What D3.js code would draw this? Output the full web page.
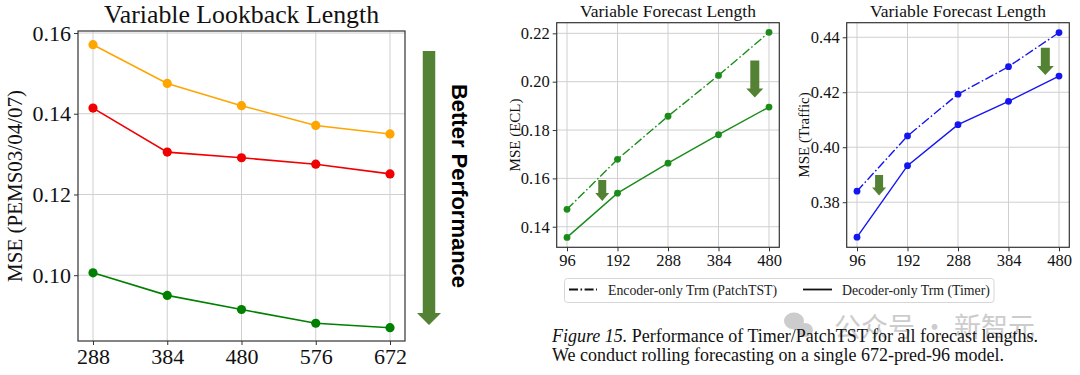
<!DOCTYPE html>
<html>
<head>
<meta charset="utf-8">
<script src="https://cdn.jsdelivr.net/npm/d3@7"></script>
<style>
  body { margin: 0; background: #fff; }
  svg { display: block; }
</style>
</head>
<body>
<svg width="1080" height="375"></svg>
<script>
// ---- data ----
const lookback = [288, 384, 480, 576, 672];
const pemsTicks = [0.10, 0.12, 0.14, 0.16];
const pemsOrange = [0.1571, 0.1475, 0.1420, 0.1371, 0.1350];
const pemsRed = [0.1414, 0.1305, 0.1291, 0.1275, 0.1251];
const pemsGreen = [0.1006, 0.0950, 0.0915, 0.0881, 0.0870];

const horizons = [96, 192, 288, 384, 480];
const eclTicks = [0.14, 0.16, 0.18, 0.20, 0.22];
const eclEncoder = [0.1472, 0.1679, 0.1857, 0.2026, 0.2204];
const eclDecoder = [0.1356, 0.1539, 0.1663, 0.1781, 0.1895];
const trafficTicks = [0.38, 0.40, 0.42, 0.44];
const trafficEncoder = [0.3840, 0.4041, 0.4193, 0.4293, 0.4417];
const trafficDecoder = [0.3673, 0.3933, 0.4082, 0.4167, 0.4259];

const legendLabels = ["Encoder-only Trm (PatchTST)", "Decoder-only Trm (Timer)"];

const svg = d3.select("svg");
const serif = "'Liberation Serif', 'Times New Roman', serif";
const arrowGreen = "#548235";

// block arrow pointing down, centred on cx, from y0 to y1
function blockArrow(g, cx, y0, y1, shaftW, headW, headH) {
    const p = d3.path();
    p.moveTo(cx - shaftW / 2, y0);
    p.lineTo(cx + shaftW / 2, y0);
    p.lineTo(cx + shaftW / 2, y1 - headH);
    p.lineTo(cx + headW / 2, y1 - headH);
    p.lineTo(cx, y1);
    p.lineTo(cx - headW / 2, y1 - headH);
    p.lineTo(cx - shaftW / 2, y1 - headH);
    p.closePath();
    g.append("path").attr("d", p.toString()).attr("fill", arrowGreen);
}

function drawPanel(o) {
    const g = svg.append("g");
    const x = d3.scaleLinear().domain(d3.extent(o.xs)).range([o.left + o.padX, o.right - o.padX]);
    const y = d3.scaleLinear().domain(o.yDomain).range([o.bottom, o.top]);

    // grid
    g.append("g").selectAll("line.vx").data(o.xs).enter().append("line")
        .attr("x1", d => x(d)).attr("x2", d => x(d))
        .attr("y1", o.top).attr("y2", o.bottom)
        .attr("stroke", "#cfcfcf").attr("stroke-width", 1);
    g.append("g").selectAll("line.hy").data(o.yTicks).enter().append("line")
        .attr("x1", o.left).attr("x2", o.right)
        .attr("y1", d => y(d)).attr("y2", d => y(d))
        .attr("stroke", "#cfcfcf").attr("stroke-width", 1);

    // axes
    const xAxis = g.append("g").attr("transform", `translate(0,${o.bottom})`)
        .call(d3.axisBottom(x).tickValues(o.xs).tickFormat(d3.format("d")).tickSize(4).tickPadding(3));
    const yAxis = g.append("g").attr("transform", `translate(${o.left},0)`)
        .call(d3.axisLeft(y).tickValues(o.yTicks).tickFormat(d3.format(".2f")).tickSize(4).tickPadding(3));
    [xAxis, yAxis].forEach(a => {
        a.select(".domain").remove();
        a.selectAll("line").attr("stroke", "#333");
        a.selectAll("text").attr("font-family", serif).attr("font-size", o.tickFont).attr("fill", "#111");
    });

    // frame
    g.append("rect").attr("x", o.left).attr("y", o.top)
        .attr("width", o.right - o.left).attr("height", o.bottom - o.top)
        .attr("fill", "none").attr("stroke", "#333").attr("stroke-width", 1.2);

    // series
    const line = d3.line().x((d, i) => x(o.xs[i])).y(d => y(d));
    o.series.forEach(s => {
        g.append("path").datum(s.values).attr("d", line)
            .attr("fill", "none").attr("stroke", s.color).attr("stroke-width", o.lineW)
            .attr("stroke-dasharray", s.dash || null);
        g.append("g").selectAll("circle").data(s.values).enter().append("circle")
            .attr("cx", (d, i) => x(o.xs[i])).attr("cy", d => y(d))
            .attr("r", o.markerR).attr("fill", s.color);
    });

    // arrows inside the plot, placed in data coordinates
    (o.arrows || []).forEach(a => {
        blockArrow(g, x(a.x), y(a.y0), y(a.y1), a.shaftW, a.headW, a.headH);
    });

    // title and y label
    g.append("text").attr("x", (o.left + o.right) / 2).attr("y", o.titleY)
        .attr("text-anchor", "middle").attr("font-family", serif)
        .attr("font-size", o.titleFont).attr("fill", "#111").text(o.title);
    g.append("text")
        .attr("transform", `translate(${o.ylabelX},${(o.top + o.bottom) / 2}) rotate(-90)`)
        .attr("text-anchor", "middle").attr("dominant-baseline", "central")
        .attr("font-family", serif).attr("font-size", o.ylabelFont).attr("fill", "#111").text(o.ylabel);
    return { x, y };
}

// left panel
drawPanel({
    xs: lookback, yTicks: pemsTicks, yDomain: [0.0837, 0.1605],
    left: 78, right: 405, top: 31, bottom: 341, padX: 15,
    tickFont: 22, titleFont: 25.8, ylabelFont: 21, lineW: 1.6, markerR: 4.6,
    title: "Variable Lookback Length", titleY: 23,
    ylabel: "MSE (PEMS03/04/07)", ylabelX: 15,
    series: [
        { values: pemsOrange, color: "#ffa500" },
        { values: pemsRed, color: "#f00000" },
        { values: pemsGreen, color: "#008000" }
    ]
});

// big arrow with label
const ann = svg.append("g");
blockArrow(ann, 429, 51, 325, 12.5, 24, 12);
ann.append("text")
    .attr("transform", "translate(459,186) rotate(90)")
    .attr("text-anchor", "middle").attr("dominant-baseline", "central")
    .attr("font-family", "'Liberation Sans', Arial, sans-serif").attr("font-weight", "bold")
    .attr("font-size", 22).attr("fill", "#000").text("Better Performance");

// middle panel (ECL)
const dashDot = "9,2.5,1.6,2.5";
drawPanel({
    xs: horizons, yTicks: eclTicks, yDomain: [0.1315, 0.2244],
    left: 556.7, right: 779.3, top: 22.7, bottom: 247.3, padX: 10.3,
    tickFont: 16.5, titleFont: 17.5, ylabelFont: 15, lineW: 1.4, markerR: 3.4,
    title: "Variable Forecast Length", titleY: 17,
    ylabel: "MSE (ECL)", ylabelX: 515,
    series: [
        { values: eclEncoder, color: "#1a8c1a", dash: dashDot },
        { values: eclDecoder, color: "#1a8c1a" }
    ],
    arrows: [
        { x: 163, y0: 0.1593, y1: 0.1506, shaftW: 8, headW: 14, headH: 8 },
        { x: 453, y0: 0.2088, y1: 0.1935, shaftW: 9, headW: 17, headH: 9 }
    ]
});

// right panel (Traffic)
drawPanel({
    xs: horizons, yTicks: trafficTicks, yDomain: [0.3636, 0.4453],
    left: 846.7, right: 1069.3, top: 22.7, bottom: 247.3, padX: 10.3,
    tickFont: 16.5, titleFont: 17.5, ylabelFont: 15, lineW: 1.4, markerR: 3.4,
    title: "Variable Forecast Length", titleY: 17,
    ylabel: "MSE (Traffic)", ylabelX: 804,
    series: [
        { values: trafficEncoder, color: "#1515f0", dash: dashDot },
        { values: trafficDecoder, color: "#1515f0" }
    ],
    arrows: [
        { x: 138, y0: 0.3899, y1: 0.3824, shaftW: 8, headW: 14, headH: 8 },
        { x: 454, y0: 0.4362, y1: 0.4263, shaftW: 9, headW: 17, headH: 9 }
    ]
});

// legend
const leg = svg.append("g");
leg.append("rect").attr("x", 564.5).attr("y", 278.5).attr("width", 429.5).attr("height", 24)
    .attr("rx", 3).attr("fill", "#fff").attr("stroke", "#d6d6d6");
[[569, 597, 608, dashDot], [803, 832, 842, null]].forEach((it, i) => {
    leg.append("line").attr("x1", it[0]).attr("x2", it[1]).attr("y1", 289.5).attr("y2", 289.5)
        .attr("stroke", "#111").attr("stroke-width", 1.8).attr("stroke-dasharray", it[3]);
    leg.append("text").attr("x", it[2]).attr("y", 294.5)
        .attr("font-family", serif).attr("font-size", 13.8).attr("fill", "#222").text(legendLabels[i]);
});

// watermark
const wm = svg.append("g").attr("fill", "#c4c4c4").attr("opacity", 0.85);
wm.append("ellipse").attr("cx", 794).attr("cy", 321).attr("rx", 10).attr("ry", 8.5);
wm.append("ellipse").attr("cx", 805).attr("cy", 330).attr("rx", 8).attr("ry", 7);
wm.append("text").attr("x", 834).attr("y", 337)
    .attr("font-family", "'Noto Sans CJK SC', sans-serif").attr("font-size", 27)
    .text("公众号 · 新智元");

// caption
const cap = svg.append("g").attr("font-family", serif).attr("font-size", 18).attr("fill", "#111");
const l1 = cap.append("text").attr("x", 552).attr("y", 342);
l1.append("tspan").attr("font-style", "italic").text("Figure 15.");
l1.append("tspan").text(" Performance of Timer/PatchTST for all forecast lengths.");
cap.append("text").attr("x", 552).attr("y", 361)
    .text("We conduct rolling forecasting on a single 672-pred-96 model.");
</script>
</body>
</html>
